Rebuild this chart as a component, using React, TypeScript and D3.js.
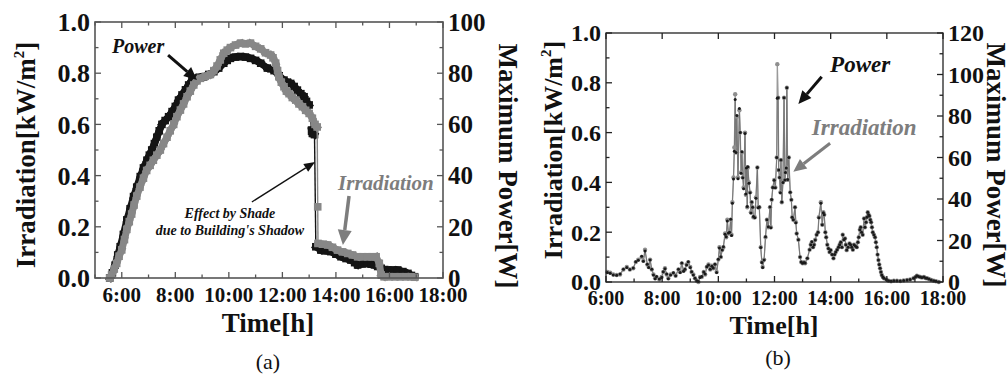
import React from 'react';
import * as d3 from 'd3';

// ---------- Panel (a) data ----------
const timeA_irr = [5.55,5.62,5.72,5.81,5.9,6.0,6.1,6.19,6.28,6.37,6.46,6.56,6.68,6.81,6.93,7.06,7.18,7.31,7.44,7.56,7.69,7.81,7.94,8.06,8.19,8.31,8.44,8.56,8.69,8.81,8.94,9.12,9.31,9.44,9.56,9.68,9.81,9.94,10.06,10.25,10.44,10.62,10.81,11.0,11.19,11.37,11.56,11.65,11.75,11.82,11.87,11.96,12.06,12.15,12.25,12.37,12.5,12.62,12.75,12.87,13.0,13.12,13.22,13.3,13.32,13.33,13.5,13.69,13.87,14.06,14.25,14.44,14.62,14.81,15.0,15.19,15.35,15.5,15.62,15.69,15.8,16.0,16.2,16.4,16.6,16.8,16.94];
const irradiationA = [0.0,0.012,0.035,0.057,0.085,0.11,0.15,0.19,0.22,0.25,0.285,0.32,0.355,0.39,0.42,0.44,0.46,0.48,0.50,0.525,0.55,0.575,0.60,0.63,0.656,0.68,0.708,0.73,0.754,0.77,0.78,0.788,0.795,0.81,0.828,0.852,0.878,0.89,0.90,0.91,0.917,0.915,0.917,0.905,0.895,0.88,0.871,0.86,0.839,0.81,0.786,0.765,0.747,0.73,0.72,0.705,0.695,0.68,0.669,0.655,0.643,0.624,0.60,0.59,0.278,0.135,0.132,0.129,0.12,0.109,0.102,0.096,0.09,0.083,0.083,0.083,0.083,0.083,0.057,0.012,0.005,0.005,0.005,0.005,0.005,0.005,0.003];

const timeA_pow = [5.55,5.65,5.75,5.85,5.94,6.06,6.19,6.31,6.44,6.56,6.69,6.81,6.94,7.03,7.12,7.22,7.31,7.4,7.5,7.62,7.75,7.88,8.0,8.12,8.25,8.38,8.5,8.62,8.75,8.9,9.06,9.25,9.44,9.62,9.81,9.94,10.06,10.25,10.44,10.62,10.81,11.0,11.19,11.44,11.69,11.88,12.06,12.19,12.31,12.44,12.56,12.69,12.81,12.9,13.0,13.09,13.12,13.2,13.25,13.44,13.62,13.81,14.0,14.19,14.38,14.56,14.7,14.81,15.0,15.19,15.31,15.44,15.56,15.69,15.82,15.94,16.12,16.31,16.5,16.69,16.82,16.94];
const powerA = [0,2,5,9,12.2,17,22.7,27,31.8,35.5,39.6,43,46,48,50,52.5,55,57.5,60,61.5,63,65,67,69.5,71.5,73.5,75.4,77,78,78.4,78.6,79.5,80.6,82,83.9,85,85.8,86.3,86.5,86.3,85.8,85,83.9,82,81,79,77.3,76.5,76,74.8,73.4,72,70.8,69,67.6,57.8,56.5,56,12.2,10.9,10.6,10.3,9.3,8.3,7.6,7.0,6.0,5.1,5.5,5.7,5.4,5.1,4.5,3.8,3.3,3.1,3.1,3.1,2.5,1.8,1.0,0.5];

// ---------- Panel (b) data ----------
const timeB = [6.05,6.15,6.26,6.38,6.5,6.62,6.74,6.85,6.97,7.06,7.15,7.27,7.33,7.39,7.47,7.52,7.57,7.63,7.69,7.75,7.8,7.9,7.98,8.04,8.1,8.16,8.22,8.3,8.4,8.48,8.58,8.64,8.7,8.76,8.81,8.87,8.93,9.0,9.05,9.11,9.17,9.23,9.29,9.35,9.41,9.48,9.53,9.59,9.65,9.71,9.77,9.82,9.88,9.94,10.0,10.04,10.09,10.14,10.18,10.24,10.28,10.32,10.36,10.4,10.44,10.47,10.5,10.54,10.57,10.6,10.63,10.66,10.7,10.75,10.78,10.81,10.84,10.87,10.9,10.95,10.98,11.0,11.03,11.05,11.09,11.13,11.16,11.19,11.22,11.25,11.3,11.34,11.39,11.42,11.46,11.51,11.55,11.58,11.63,11.68,11.73,11.78,11.84,11.87,11.9,11.94,11.99,12.03,12.08,12.1,12.13,12.15,12.18,12.21,12.23,12.26,12.3,12.34,12.37,12.39,12.42,12.44,12.47,12.51,12.56,12.6,12.63,12.67,12.73,12.76,12.79,12.85,12.91,12.95,13.0,13.05,13.09,13.17,13.25,13.29,13.33,13.37,13.41,13.45,13.5,13.55,13.58,13.65,13.7,13.74,13.77,13.81,13.84,13.88,13.92,13.96,14.0,14.05,14.1,14.14,14.18,14.23,14.28,14.32,14.36,14.4,14.43,14.47,14.51,14.54,14.57,14.62,14.67,14.71,14.75,14.79,14.83,14.88,14.93,14.97,15.0,15.04,15.07,15.1,15.14,15.19,15.22,15.26,15.29,15.32,15.35,15.38,15.41,15.44,15.47,15.5,15.54,15.58,15.61,15.64,15.67,15.7,15.73,15.76,15.79,15.82,15.86,15.9,15.98,16.06,16.15,16.25,16.36,16.48,16.6,16.72,16.83,16.95,17.02,17.07,17.13,17.19,17.25,17.32,17.38,17.43,17.5,17.58,17.67,17.75,17.85];
const irradiationB = [0.04,0.037,0.03,0.028,0.03,0.05,0.06,0.05,0.055,0.08,0.09,0.10,0.085,0.13,0.07,0.06,0.09,0.05,0.03,0.015,0.02,0.01,0.02,0.04,0.055,0.03,0.015,0.03,0.035,0.025,0.05,0.04,0.075,0.045,0.05,0.07,0.08,0.06,0.04,0.03,0.015,0.005,0.0,0.02,0.02,0.04,0.03,0.06,0.07,0.05,0.065,0.055,0.07,0.04,0.09,0.14,0.10,0.13,0.14,0.195,0.18,0.25,0.195,0.2,0.25,0.19,0.32,0.42,0.54,0.754,0.52,0.664,0.42,0.69,0.60,0.44,0.52,0.42,0.38,0.60,0.35,0.46,0.30,0.46,0.40,0.36,0.28,0.32,0.30,0.26,0.26,0.34,0.46,0.30,0.30,0.14,0.08,0.06,0.09,0.18,0.25,0.22,0.30,0.22,0.33,0.38,0.41,0.38,0.50,0.875,0.74,0.45,0.42,0.36,0.49,0.32,0.40,0.74,0.41,0.44,0.46,0.78,0.41,0.50,0.36,0.33,0.26,0.25,0.30,0.24,0.195,0.17,0.10,0.08,0.075,0.08,0.075,0.095,0.13,0.15,0.16,0.14,0.15,0.17,0.19,0.20,0.26,0.32,0.23,0.28,0.27,0.20,0.18,0.15,0.135,0.12,0.128,0.11,0.095,0.11,0.12,0.13,0.14,0.15,0.16,0.14,0.19,0.17,0.175,0.15,0.128,0.14,0.155,0.15,0.14,0.13,0.15,0.145,0.14,0.16,0.18,0.21,0.22,0.2,0.19,0.255,0.22,0.24,0.26,0.28,0.27,0.265,0.25,0.24,0.22,0.20,0.19,0.18,0.16,0.14,0.11,0.088,0.07,0.055,0.04,0.028,0.02,0.015,0.01,0.005,0.003,0.005,0.005,0.004,0.006,0.008,0.01,0.015,0.02,0.025,0.022,0.02,0.018,0.02,0.016,0.015,0.012,0.008,0.005,0.003,0.0];
const powerB = [4.6,4.2,3.4,3.2,3.8,6.2,7.0,6.0,6.8,9.8,10.5,12.4,10.0,15.0,8.6,7.0,10.6,6.2,3.4,1.6,2.6,1.4,2.2,5.0,6.4,3.8,1.6,3.4,4.4,3.0,6.2,4.6,9.2,5.2,6.2,8.2,9.8,7.0,5.0,3.4,1.8,0.6,0.2,2.2,2.6,4.8,3.8,7.4,8.2,6.2,7.6,6.8,8.6,4.6,11.0,16.4,12.2,15.4,17.0,23.0,21.8,29.4,23.6,24.0,30.2,22.4,38.0,49.6,63.0,88.0,62.4,80.2,49.8,83.6,72.0,52.4,62.8,50.2,45.0,71.6,42.4,55.0,36.4,55.6,47.6,43.0,33.2,38.6,36.0,31.6,31.0,40.4,55.2,35.8,36.2,16.6,9.4,7.0,10.6,21.8,30.0,26.6,36.2,26.2,39.8,45.6,49.0,45.4,60.0,88.6,88.8,54.0,50.4,43.0,58.8,38.6,48.0,88.8,49.2,52.8,55.0,93.6,49.4,60.0,43.2,39.6,31.2,30.0,36.0,28.6,23.4,20.4,12.0,9.6,9.0,9.4,9.2,11.4,15.6,18.0,19.4,16.8,18.0,20.2,22.8,24.0,31.0,38.0,27.6,33.4,32.4,24.0,21.6,18.0,16.2,14.4,15.4,13.2,11.4,13.2,14.4,15.6,16.8,18.0,19.2,16.8,22.8,20.4,21.0,18.0,15.4,16.8,18.6,18.0,16.8,15.6,18.0,17.4,16.8,19.2,21.6,25.2,26.4,24.0,22.8,30.6,26.4,28.8,31.2,33.6,32.4,31.8,30.0,28.8,26.4,24.0,22.8,21.6,19.2,16.8,13.2,10.6,8.4,6.6,4.8,3.4,2.4,1.8,1.2,0.6,0.4,0.6,0.6,0.5,0.7,1.0,1.2,1.8,2.4,3.0,2.6,2.4,2.2,2.4,1.9,1.8,1.4,1.0,0.6,0.4,0.0];

// ---------- Tick definitions ----------
const hourTicksA = [5,6,7,8,9,10,11,12,13,14,15,16,17,18];
const hourTicksB = [6,7,8,9,10,11,12,13,14,15,16,17,18];
const timeLabelHours = [6,8,10,12,14,16,18];
const irrTicks = [0,0.1,0.2,0.3,0.4,0.5,0.6,0.7,0.8,0.9,1.0];
const irrLabels = [0,0.2,0.4,0.6,0.8,1.0];
const powTicksA = [0,10,20,30,40,50,60,70,80,90,100];
const powLabelsA = [0,20,40,60,80,100];
const powTicksB = [0,10,20,30,40,50,60,70,80,90,100,110,120];
const powLabelsB = [0,20,40,60,80,100,120];

const FONT = "Liberation Serif, Times New Roman, Times, serif";
const GRAY = '#7d7d7d';

function Arrow({ x1, y1, x2, y2, color, width, headLen, headHalf }: any) {
  const ang = Math.atan2(y2 - y1, x2 - x1);
  const bx = x2 - headLen * Math.cos(ang);
  const by = y2 - headLen * Math.sin(ang);
  const px = -Math.sin(ang) * headHalf;
  const py = Math.cos(ang) * headHalf;
  return (
    <g>
      <line x1={x1} y1={y1} x2={bx} y2={by} stroke={color} strokeWidth={width} />
      <polygon points={`${x2},${y2} ${bx + px},${by + py} ${bx - px},${by - py}`} fill={color} />
    </g>
  );
}

function Frame({ x, yL, yR, xTicks, topTicks, powTicks, powLabels, leftFont, rightFont, bottomFont, labelBaseline, frameColor, frameWidth }: any) {
  const [x0, x1] = x.range();
  const [y0, y1] = yL.range();
  const maj = 6, min = 3.5;
  return (
    <g fontFamily={FONT} fontWeight="bold" fill="#111">
      <rect x={x0} y={y1} width={x1 - x0} height={y0 - y1} fill="none" stroke={frameColor} strokeWidth={frameWidth} />
      {xTicks.map((h: number) => (
        <line key={'b' + h} x1={x(h)} x2={x(h)} y1={y0} y2={y0 - (h % 2 === 0 ? maj : min)} stroke={frameColor} strokeWidth={1.3} />
      ))}
      {topTicks.map((h: number) => (
        <line key={'t' + h} x1={x(h)} x2={x(h)} y1={y1} y2={y1 + (h % 2 === 0 ? maj : min)} stroke={frameColor} strokeWidth={1.3} />
      ))}
      {irrTicks.map((v: number, i: number) => (
        <line key={'l' + i} x1={x0} x2={x0 + (i % 2 === 0 ? maj : min)} y1={yL(v)} y2={yL(v)} stroke={frameColor} strokeWidth={1.3} />
      ))}
      {powTicks.map((v: number, i: number) => (
        <line key={'r' + i} x1={x1} x2={x1 - (i % 2 === 0 ? maj : min)} y1={yR(v)} y2={yR(v)} stroke={frameColor} strokeWidth={1.3} />
      ))}
      {timeLabelHours.map((h) => (
        <text key={'bl' + h} x={x(h)} y={labelBaseline} textAnchor="middle" fontSize={bottomFont}>{`${h}:00`}</text>
      ))}
      {irrLabels.map((v) => (
        <text key={'ll' + v} x={x0 - 5} y={yL(v)} dy="0.35em" textAnchor="end" fontSize={leftFont}>{d3.format('.1f')(v)}</text>
      ))}
      {powLabels.map((v: number) => (
        <text key={'rl' + v} x={x1 + 5} y={yR(v)} dy="0.35em" textAnchor="start" fontSize={rightFont}>{v}</text>
      ))}
    </g>
  );
}

function PanelA() {
  const x = d3.scaleLinear().domain([5, 18]).range([95, 443]);
  const yL = d3.scaleLinear().domain([0, 1]).range([278, 22]);
  const yR = d3.scaleLinear().domain([0, 100]).range([278, 22]);
  const irrPts = timeA_irr.map((t, i) => [x(t), yL(irradiationA[i])]);
  const powPts = timeA_pow.map((t, i) => [x(t), yR(powerA[i])]);
  const band = (pts: number[][], color: string, key: string) => (
    <g key={key}>
      {pts.slice(1).map((p, i) => {
        const q = pts[i];
        const steep = Math.abs(p[1] - q[1]) > 25 && Math.abs(p[0] - q[0]) < 4;
        return <line key={i} x1={q[0]} y1={q[1]} x2={p[0]} y2={p[1]} stroke={color} strokeWidth={steep ? 1.4 : 7} strokeLinecap={steep ? 'butt' : 'square'} />;
      })}
      {pts.map((p, i) => (
        <rect key={'m' + i} x={p[0] - 3.8} y={p[1] - 3.8} width={7.6} height={7.6} fill={color} />
      ))}
    </g>
  );
  return (
    <g>
      {band(powPts, '#141414', 'pow')}
      {band(irrPts, '#878787', 'irr')}
      <Frame x={x} yL={yL} yR={yR} xTicks={hourTicksA} topTicks={hourTicksA} powTicks={powTicksA} powLabels={powLabelsA} leftFont={26} rightFont={25} bottomFont={21} labelBaseline={302} frameColor="#555" frameWidth={1.6} />
      <text fontFamily={FONT} fontWeight="bold" fontSize={27} textAnchor="middle" transform="translate(35,155) rotate(-90)" fill="#111">
        <tspan>Irradiation[kW/m</tspan><tspan dy={-11} fontSize={15}>2</tspan><tspan dy={11}>]</tspan>
      </text>
      <text fontFamily={FONT} fontWeight="bold" fontSize={27} textAnchor="middle" transform="translate(499,166) rotate(90)" fill="#111">Maximum Power[W]</text>
      <text fontFamily={FONT} fontWeight="bold" fontSize={27} textAnchor="middle" x={268} y={332} fill="#111">Time[h]</text>
      <text fontFamily={FONT} fontSize={22} textAnchor="middle" x={268} y={369} fill="#111">(a)</text>
      <text fontFamily={FONT} fontWeight="bold" fontStyle="italic" fontSize={20} x={x(5.635)} y={yL(0.879)} fill="#111">Power</text>
      <Arrow x1={x(7.73)} y1={yL(0.871)} x2={x(8.81)} y2={yL(0.773)} color="#111" width={3} headLen={13} headHalf={6} />
      <text fontFamily={FONT} fontWeight="bold" fontStyle="italic" fontSize={21} x={x(14.08)} y={yL(0.344)} fill={GRAY}>Irradiation</text>
      <Arrow x1={x(14.49)} y1={yL(0.32)} x2={x(14.26)} y2={yL(0.129)} color={GRAY} width={3.5} headLen={15} headHalf={7} />
      <text fontFamily={FONT} fontWeight="bold" fontStyle="italic" fontSize={14} textAnchor="middle" x={x(10.04)} y={yL(0.234)} fill="#111">Effect by Shade</text>
      <text fontFamily={FONT} fontWeight="bold" fontStyle="italic" fontSize={14} textAnchor="middle" x={x(10.04)} y={yL(0.168)} fill="#111">due to Building's Shadow</text>
      <Arrow x1={x(10.86)} y1={yL(0.297)} x2={x(13.22)} y2={yL(0.453)} color="#111" width={1.3} headLen={11} headHalf={4.5} />
    </g>
  );
}

function PanelB() {
  const x = d3.scaleLinear().domain([6, 18]).range([606, 943]);
  const yL = d3.scaleLinear().domain([0, 1]).range([282, 33]);
  const yR = d3.scaleLinear().domain([0, 120]).range([282, 33]);
  const irrLine = d3.line<number>().x((_, i) => x(timeB[i])).y((d) => yL(d));
  const powLine = d3.line<number>().x((_, i) => x(timeB[i])).y((d) => yR(d));
  return (
    <g>
      <path d={irrLine(irradiationB) || ''} fill="none" stroke="#9a9a9a" strokeWidth={1.3} />
      <path d={powLine(powerB) || ''} fill="none" stroke="#707070" strokeWidth={0.8} />
      {irradiationB.map((v, i) => (
        <circle key={'i' + i} cx={x(timeB[i])} cy={yL(v)} r={2.2} fill="#8f8f8f" />
      ))}
      {powerB.map((v, i) => (
        <circle key={'p' + i} cx={x(timeB[i])} cy={yR(v)} r={1.5} fill="#1a1a1a" />
      ))}
      <Frame x={x} yL={yL} yR={yR} xTicks={hourTicksB} topTicks={timeLabelHours} powTicks={powTicksB} powLabels={powLabelsB} leftFont={24} rightFont={24} bottomFont={20} labelBaseline={305} frameColor="#222" frameWidth={1.3} />
      <text fontFamily={FONT} fontWeight="bold" fontSize={26} textAnchor="middle" transform="translate(562,150) rotate(-90)" fill="#111">
        <tspan>Irradiation[kW/m</tspan><tspan dy={-11} fontSize={15}>2</tspan><tspan dy={11}>]</tspan>
      </text>
      <text fontFamily={FONT} fontWeight="bold" fontSize={27} textAnchor="middle" transform="translate(987,165) rotate(90)" fill="#111">Maximum Power[W]</text>
      <text fontFamily={FONT} fontWeight="bold" fontSize={26} textAnchor="middle" x={774} y={334} fill="#111">Time[h]</text>
      <text fontFamily={FONT} fontSize={22} textAnchor="middle" x={778} y={365} fill="#111">(b)</text>
      <text fontFamily={FONT} fontWeight="bold" fontStyle="italic" fontSize={23} x={x(13.98)} y={yL(0.845)} fill="#111">Power</text>
      <Arrow x1={x(13.68)} y1={yL(0.824)} x2={x(12.85)} y2={yL(0.715)} color="#111" width={3} headLen={13} headHalf={6} />
      <text fontFamily={FONT} fontWeight="bold" fontStyle="italic" fontSize={23} x={x(13.33)} y={yL(0.59)} fill={GRAY}>Irradiation</text>
      <Arrow x1={x(13.98)} y1={yL(0.557)} x2={x(12.67)} y2={yL(0.443)} color={GRAY} width={3} headLen={13} headHalf={6} />
    </g>
  );
}

export default function App() {
  return (
    <div style={{ position: 'absolute', left: 0, top: 0 }}>
      <svg width={1008} height={376} viewBox="0 0 1008 376" style={{ display: 'block', background: '#fff' }}>
        <PanelA />
        <PanelB />
      </svg>
    </div>
  );
}
